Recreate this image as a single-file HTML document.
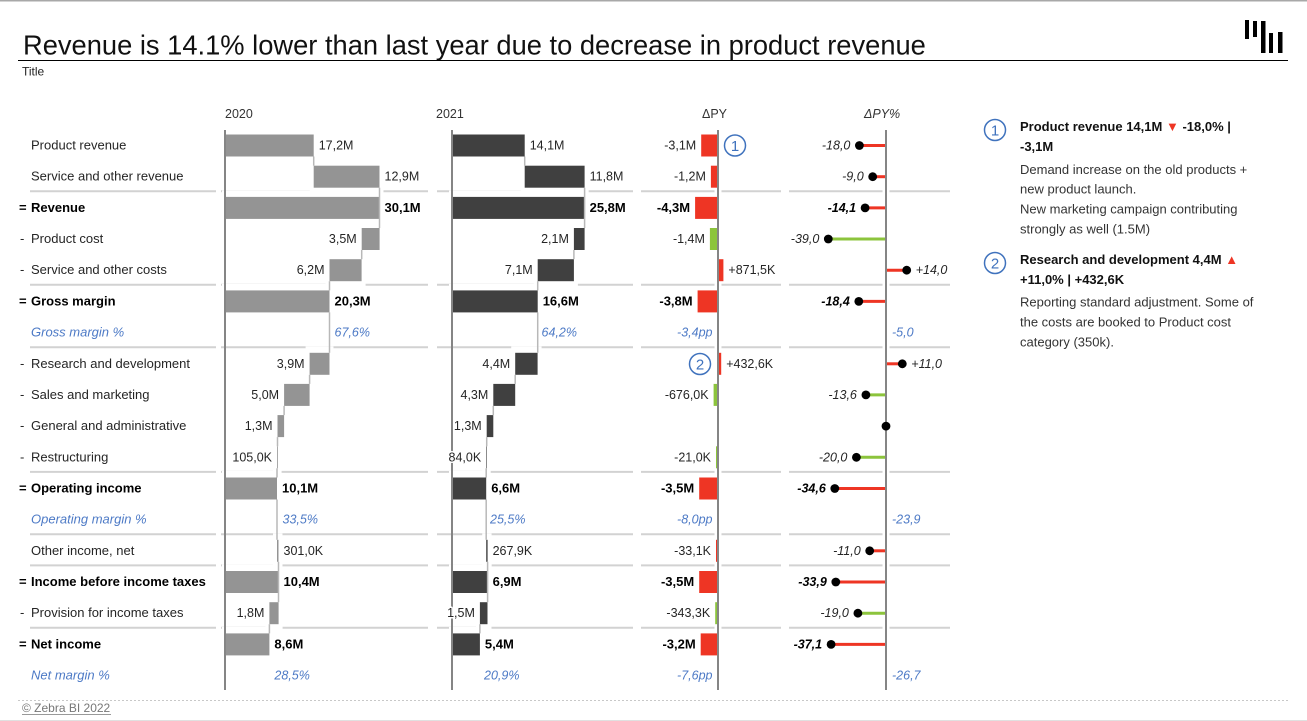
<!DOCTYPE html>
<html><head><meta charset="utf-8"><style>
html,body{margin:0;padding:0;background:#fff;}
svg{display:block;font-family:"Liberation Sans",Arial,sans-serif;}
.lb{font-size:13px;fill:#252525;}
.bd{font-weight:bold;fill:#000;}
.pc{font-style:italic;fill:#4d7ac6;}
.v{font-size:12.5px;fill:#252525;paint-order:stroke;stroke:#fff;stroke-width:3px;stroke-linejoin:round;}
.e{text-anchor:end;}
.it{font-style:italic;}
.hd{font-size:12.5px;fill:#333;}
.cm{font-size:13px;fill:#333;}
.sep{stroke:#d2d2d2;stroke-width:2;}
.cn{stroke:#b8b8b8;stroke-width:1.5;}
</style></head><body>
<svg width="1307" height="721" viewBox="0 0 1307 721" xmlns="http://www.w3.org/2000/svg">
<rect x="0" y="0" width="1307" height="721" fill="#fff"/>
<rect x="0" y="0" width="1307" height="1.5" fill="#a8a8a8"/>
<rect x="0" y="720" width="1307" height="1" fill="#e0e0e0"/>

<!-- Title -->
<text x="23" y="54.5" font-size="27.3" fill="#111">Revenue is 14.1% lower than last year due to decrease in product revenue</text>
<line x1="18" y1="60.5" x2="1288" y2="60.5" stroke="#000" stroke-width="1"/>
<text x="22" y="75.5" font-size="12" fill="#222">Title</text>
<!-- logo -->
<g fill="#000">
<rect x="1245" y="20" width="4" height="19"/>
<rect x="1253" y="21" width="4" height="16"/>
<rect x="1261" y="21" width="4.5" height="32"/>
<rect x="1269" y="33" width="4" height="20"/>
<rect x="1278" y="32" width="4.5" height="21"/>
</g>

<!-- headers -->
<text class="hd" x="225" y="118">2020</text>
<text class="hd" x="436" y="118">2021</text>
<text class="hd" x="702" y="118">ΔPY</text>
<text class="hd it" x="864" y="118">ΔPY%</text>

<!-- separators -->
<g class="sep">
<path d="M30 191.3H216M221 191.3H428M437 191.3H633M641 191.3H781M789 191.3H950"/>
<path d="M30 284.8H216M221 284.8H428M437 284.8H633M641 284.8H781M789 284.8H950"/>
<path d="M30 347.2H216M221 347.2H428M437 347.2H633M641 347.2H781M789 347.2H950"/>
<path d="M30 471.9H216M221 471.9H428M437 471.9H633M641 471.9H781M789 471.9H950"/>
<path d="M30 534.3H216M221 534.3H428M437 534.3H633M641 534.3H781M789 534.3H950"/>
<path d="M30 565.4H216M221 565.4H428M437 565.4H633M641 565.4H781M789 565.4H950"/>
<path d="M30 627.8H216M221 627.8H428M437 627.8H633M641 627.8H781M789 627.8H950"/>
</g>
<!-- axis halos -->
<g stroke="#fff" stroke-width="7">
<line x1="718" y1="130" x2="718" y2="690"/>
<line x1="886" y1="130" x2="886" y2="690"/>
</g>

<!-- white outlines for main bars -->
<g fill="#fff">
<rect x="222" y="128" width="95.7" height="35"/>
<rect x="309.7" y="159.2" width="73.8" height="35"/>
<rect x="222" y="190.4" width="161.5" height="35"/>
<rect x="357.7" y="221.5" width="25.9" height="35"/>
<rect x="325.5" y="252.7" width="40.1" height="35"/>
<rect x="222" y="283.9" width="111.5" height="35"/>
<rect x="305.6" y="346.3" width="27.9" height="35"/>
<rect x="280.1" y="377.4" width="33.5" height="35"/>
<rect x="273.5" y="408.6" width="14.6" height="35"/>
<rect x="273" y="439.8" width="8.6" height="35"/>
<rect x="222" y="471" width="59" height="35"/>
<rect x="273" y="533.3" width="9.5" height="35"/>
<rect x="222" y="564.5" width="60.5" height="35"/>
<rect x="265.4" y="595.7" width="17.2" height="35"/>
<rect x="222" y="626.9" width="51.4" height="35"/>

<rect x="449" y="128" width="79.7" height="35"/>
<rect x="520.7" y="159.2" width="67.9" height="35"/>
<rect x="449" y="190.4" width="139.6" height="35"/>
<rect x="569.9" y="221.5" width="18.7" height="35"/>
<rect x="533.7" y="252.7" width="44.2" height="35"/>
<rect x="449" y="283.9" width="92.7" height="35"/>
<rect x="511.2" y="346.3" width="30.4" height="35"/>
<rect x="489.3" y="377.4" width="29.9" height="35"/>
<rect x="482.7" y="408.6" width="14.6" height="35"/>
<rect x="482.2" y="439.8" width="8.5" height="35"/>
<rect x="449" y="471" width="41.2" height="35"/>
<rect x="482.2" y="533.3" width="9.4" height="35"/>
<rect x="449" y="564.5" width="42.6" height="35"/>
<rect x="475.9" y="595.7" width="15.6" height="35"/>
<rect x="449" y="626.9" width="34.9" height="35"/>
</g>

<!-- axes -->
<g stroke="#858585" stroke-width="2">
<line x1="225" y1="130" x2="225" y2="690"/>
<line x1="452" y1="130" x2="452" y2="690"/>
<line x1="718" y1="130" x2="718" y2="690"/>
<line x1="886" y1="130" x2="886" y2="690"/>
</g>

<!-- 2020 bars -->
<g fill="#949494">
<rect x="226" y="134.5" width="87.7" height="22"/>
<rect x="313.7" y="165.7" width="65.8" height="22"/>
<rect x="226" y="196.9" width="153.5" height="22"/>
<rect x="361.7" y="228" width="17.9" height="22"/>
<rect x="329.5" y="259.2" width="32.1" height="22"/>
<rect x="226" y="290.4" width="103.5" height="22"/>
<rect x="309.6" y="352.8" width="19.9" height="22"/>
<rect x="284.1" y="383.9" width="25.5" height="22"/>
<rect x="277.5" y="415.1" width="6.6" height="22"/>
<rect x="277" y="446.3" width="0.8" height="22"/>
<rect x="226" y="477.5" width="51" height="22"/>
<rect x="277" y="539.8" width="1.5" height="22"/>
<rect x="226" y="571" width="52.5" height="22"/>
<rect x="269.4" y="602.2" width="9.2" height="22"/>
<rect x="226" y="633.4" width="43.4" height="22"/>
</g>
<!-- 2021 bars -->
<g fill="#404040">
<rect x="453" y="134.5" width="71.7" height="22"/>
<rect x="524.7" y="165.7" width="59.9" height="22"/>
<rect x="453" y="196.9" width="131.6" height="22"/>
<rect x="573.9" y="228" width="10.7" height="22"/>
<rect x="537.7" y="259.2" width="36.2" height="22"/>
<rect x="453" y="290.4" width="84.7" height="22"/>
<rect x="515.2" y="352.8" width="22.4" height="22"/>
<rect x="493.3" y="383.9" width="21.9" height="22"/>
<rect x="486.7" y="415.1" width="6.6" height="22"/>
<rect x="486.2" y="446.3" width="0.6" height="22"/>
<rect x="453" y="477.5" width="33.2" height="22"/>
<rect x="486.2" y="539.8" width="1.4" height="22"/>
<rect x="453" y="571" width="34.6" height="22"/>
<rect x="479.9" y="602.2" width="7.6" height="22"/>
<rect x="453" y="633.4" width="26.9" height="22"/>
</g>

<!-- connectors -->
<g class="cn">
<line x1="313.7" y1="156.5" x2="313.7" y2="165.7"/>
<line x1="379.5" y1="187.7" x2="379.5" y2="228"/>
<line x1="361.7" y1="250" x2="361.7" y2="259.2"/>
<line x1="329.5" y1="281.2" x2="329.5" y2="290.4"/>
<line x1="329.5" y1="312.4" x2="329.5" y2="352.8"/>
<line x1="309.6" y1="374.8" x2="309.6" y2="383.9"/>
<line x1="284.1" y1="405.9" x2="284.1" y2="415.1"/>
<line x1="277.5" y1="437.1" x2="277.5" y2="446.3"/>
<line x1="277" y1="468.3" x2="277" y2="477.5"/>
<line x1="277" y1="499.5" x2="277" y2="539.8"/>
<line x1="278.5" y1="561.8" x2="278.5" y2="602.2"/>
<line x1="269.4" y1="624.2" x2="269.4" y2="633.4"/>

<line x1="524.7" y1="156.5" x2="524.7" y2="165.7"/>
<line x1="584.6" y1="187.7" x2="584.6" y2="228"/>
<line x1="573.9" y1="250" x2="573.9" y2="259.2"/>
<line x1="537.7" y1="281.2" x2="537.7" y2="290.4"/>
<line x1="537.7" y1="312.4" x2="537.7" y2="352.8"/>
<line x1="515.2" y1="374.8" x2="515.2" y2="383.9"/>
<line x1="493.3" y1="405.9" x2="493.3" y2="415.1"/>
<line x1="486.7" y1="437.1" x2="486.7" y2="446.3"/>
<line x1="486.2" y1="468.3" x2="486.2" y2="477.5"/>
<line x1="486.2" y1="499.5" x2="486.2" y2="539.8"/>
<line x1="487.6" y1="561.8" x2="487.6" y2="602.2"/>
<line x1="479.9" y1="624.2" x2="479.9" y2="633.4"/>
</g>

<!-- ΔPY bars -->
<g>
<rect x="701.2" y="134.5" width="15.8" height="22" fill="#ee3524"/>
<rect x="710.9" y="165.7" width="6.1" height="22" fill="#ee3524"/>
<rect x="695.1" y="196.9" width="21.9" height="22" fill="#ee3524"/>
<rect x="709.9" y="228" width="7.1" height="22" fill="#8cc43c"/>
<rect x="719" y="259.2" width="4.4" height="22" fill="#ee3524"/>
<rect x="697.6" y="290.4" width="19.4" height="22" fill="#ee3524"/>
<rect x="719" y="352.8" width="2.2" height="22" fill="#ee3524"/>
<rect x="713.6" y="383.9" width="3.4" height="22" fill="#8cc43c"/>
<rect x="716" y="446.3" width="1" height="22" fill="#8cc43c"/>
<rect x="699.2" y="477.5" width="17.8" height="22" fill="#ee3524"/>
<rect x="716" y="539.8" width="1" height="22" fill="#ee3524"/>
<rect x="699.2" y="571" width="17.8" height="22" fill="#ee3524"/>
<rect x="715.2" y="602.2" width="1.8" height="22" fill="#8cc43c"/>
<rect x="700.7" y="633.4" width="16.3" height="22" fill="#ee3524"/>
</g>

<!-- ΔPY% lollipops -->
<g stroke-width="3">
<line x1="859.4" y1="145.5" x2="885" y2="145.5" stroke="#ee3524"/>
<line x1="872.7" y1="176.7" x2="885" y2="176.7" stroke="#ee3524"/>
<line x1="865.1" y1="207.9" x2="885" y2="207.9" stroke="#ee3524"/>
<line x1="828.3" y1="239" x2="885" y2="239" stroke="#8cc43c"/>
<line x1="887" y1="270.2" x2="906.7" y2="270.2" stroke="#ee3524"/>
<line x1="858.8" y1="301.4" x2="885" y2="301.4" stroke="#ee3524"/>
<line x1="887" y1="363.8" x2="902.3" y2="363.8" stroke="#ee3524"/>
<line x1="865.9" y1="394.9" x2="885" y2="394.9" stroke="#8cc43c"/>
<line x1="856.4" y1="457.3" x2="885" y2="457.3" stroke="#8cc43c"/>
<line x1="834.8" y1="488.5" x2="885" y2="488.5" stroke="#ee3524"/>
<line x1="869.7" y1="550.8" x2="885" y2="550.8" stroke="#ee3524"/>
<line x1="835.8" y1="582" x2="885" y2="582" stroke="#ee3524"/>
<line x1="857.9" y1="613.2" x2="885" y2="613.2" stroke="#8cc43c"/>
<line x1="831.1" y1="644.4" x2="885" y2="644.4" stroke="#ee3524"/>
</g>
<g fill="#000">
<circle cx="859.4" cy="145.5" r="4.4"/>
<circle cx="872.7" cy="176.7" r="4.4"/>
<circle cx="865.1" cy="207.9" r="4.4"/>
<circle cx="828.3" cy="239" r="4.4"/>
<circle cx="906.7" cy="270.2" r="4.4"/>
<circle cx="858.8" cy="301.4" r="4.4"/>
<circle cx="902.3" cy="363.8" r="4.4"/>
<circle cx="865.9" cy="394.9" r="4.4"/>
<circle cx="886" cy="426.1" r="4.4"/>
<circle cx="856.4" cy="457.3" r="4.4"/>
<circle cx="834.8" cy="488.5" r="4.4"/>
<circle cx="869.7" cy="550.8" r="4.4"/>
<circle cx="835.8" cy="582" r="4.4"/>
<circle cx="857.9" cy="613.2" r="4.4"/>
<circle cx="831.1" cy="644.4" r="4.4"/>
</g>

<!-- row labels -->
<g class="lb">
<text x="31" y="149.5">Product revenue</text>
<text x="31" y="180.7">Service and other revenue</text>
<text x="19" y="211.9" class="bd">=</text><text x="31" y="211.9" class="bd">Revenue</text>
<text x="20" y="243">-</text><text x="31" y="243">Product cost</text>
<text x="20" y="274.2">-</text><text x="31" y="274.2">Service and other costs</text>
<text x="19" y="305.4" class="bd">=</text><text x="31" y="305.4" class="bd">Gross margin</text>
<text x="31" y="336.6" class="pc">Gross margin %</text>
<text x="20" y="367.8">-</text><text x="31" y="367.8">Research and development</text>
<text x="20" y="398.9">-</text><text x="31" y="398.9">Sales and marketing</text>
<text x="20" y="430.1">-</text><text x="31" y="430.1">General and administrative</text>
<text x="20" y="461.3">-</text><text x="31" y="461.3">Restructuring</text>
<text x="19" y="492.5" class="bd">=</text><text x="31" y="492.5" class="bd">Operating income</text>
<text x="31" y="523.7" class="pc">Operating margin %</text>
<text x="31" y="554.8">Other income, net</text>
<text x="19" y="586" class="bd">=</text><text x="31" y="586" class="bd">Income before income taxes</text>
<text x="20" y="617.2">-</text><text x="31" y="617.2">Provision for income taxes</text>
<text x="19" y="648.4" class="bd">=</text><text x="31" y="648.4" class="bd">Net income</text>
<text x="31" y="679.6" class="pc">Net margin %</text>
</g>

<!-- 2020 labels -->
<g class="v">
<text x="318.7" y="149.5">17,2M</text>
<text x="384.5" y="180.7">12,9M</text>
<text x="384.5" y="211.9" class="bd" font-size="13">30,1M</text>
<text x="356.7" y="243" class="e">3,5M</text>
<text x="324.5" y="274.2" class="e">6,2M</text>
<text x="334.5" y="305.4" class="bd" font-size="13">20,3M</text>
<text x="334.5" y="336.6" class="pc">67,6%</text>
<text x="304.6" y="367.8" class="e">3,9M</text>
<text x="279.1" y="398.9" class="e">5,0M</text>
<text x="272.5" y="430.1" class="e">1,3M</text>
<text x="272" y="461.3" class="e">105,0K</text>
<text x="282" y="492.5" class="bd" font-size="13">10,1M</text>
<text x="282.5" y="523.7" class="pc">33,5%</text>
<text x="283.5" y="554.8">301,0K</text>
<text x="283.5" y="586" class="bd" font-size="13">10,4M</text>
<text x="264.4" y="617.2" class="e">1,8M</text>
<text x="274.4" y="648.4" class="bd" font-size="13">8,6M</text>
<text x="274.4" y="679.6" class="pc">28,5%</text>
</g>
<!-- 2021 labels -->
<g class="v">
<text x="529.7" y="149.5">14,1M</text>
<text x="589.6" y="180.7">11,8M</text>
<text x="589.6" y="211.9" class="bd" font-size="13">25,8M</text>
<text x="568.9" y="243" class="e">2,1M</text>
<text x="532.7" y="274.2" class="e">7,1M</text>
<text x="542.7" y="305.4" class="bd" font-size="13">16,6M</text>
<text x="541.5" y="336.6" class="pc">64,2%</text>
<text x="510.2" y="367.8" class="e">4,4M</text>
<text x="488.3" y="398.9" class="e">4,3M</text>
<text x="481.7" y="430.1" class="e">1,3M</text>
<text x="481.2" y="461.3" class="e">84,0K</text>
<text x="491.2" y="492.5" class="bd" font-size="13">6,6M</text>
<text x="490" y="523.7" class="pc">25,5%</text>
<text x="492.6" y="554.8">267,9K</text>
<text x="492.6" y="586" class="bd" font-size="13">6,9M</text>
<text x="474.9" y="617.2" class="e">1,5M</text>
<text x="484.9" y="648.4" class="bd" font-size="13">5,4M</text>
<text x="484" y="679.6" class="pc">20,9%</text>
</g>
<!-- ΔPY labels -->
<g class="v">
<text x="696.2" y="149.5" class="e">-3,1M</text>
<text x="705.9" y="180.7" class="e">-1,2M</text>
<text x="690.1" y="211.9" class="e bd" font-size="13">-4,3M</text>
<text x="704.9" y="243" class="e">-1,4M</text>
<text x="728.4" y="274.2">+871,5K</text>
<text x="692.6" y="305.4" class="e bd" font-size="13">-3,8M</text>
<text x="712.5" y="336.6" class="e pc">-3,4pp</text>
<text x="726.2" y="367.8">+432,6K</text>
<text x="708.6" y="398.9" class="e">-676,0K</text>
<text x="711" y="461.3" class="e">-21,0K</text>
<text x="694.2" y="492.5" class="e bd" font-size="13">-3,5M</text>
<text x="712.5" y="523.7" class="e pc">-8,0pp</text>
<text x="711" y="554.8" class="e">-33,1K</text>
<text x="694.2" y="586" class="e bd" font-size="13">-3,5M</text>
<text x="710.2" y="617.2" class="e">-343,3K</text>
<text x="695.7" y="648.4" class="e bd" font-size="13">-3,2M</text>
<text x="712.5" y="679.6" class="e pc">-7,6pp</text>
</g>
<!-- ΔPY% labels -->
<g class="v it">
<text x="850.4" y="149.5" class="e">-18,0</text>
<text x="863.7" y="180.7" class="e">-9,0</text>
<text x="856.1" y="211.9" class="e bd">-14,1</text>
<text x="819.3" y="243" class="e">-39,0</text>
<text x="915.7" y="274.2">+14,0</text>
<text x="849.8" y="305.4" class="e bd">-18,4</text>
<text x="892" y="336.6" class="pc">-5,0</text>
<text x="911.3" y="367.8">+11,0</text>
<text x="856.9" y="398.9" class="e">-13,6</text>
<text x="847.4" y="461.3" class="e">-20,0</text>
<text x="825.8" y="492.5" class="e bd">-34,6</text>
<text x="892" y="523.7" class="pc">-23,9</text>
<text x="860.7" y="554.8" class="e">-11,0</text>
<text x="826.8" y="586" class="e bd">-33,9</text>
<text x="848.9" y="617.2" class="e">-19,0</text>
<text x="822.1" y="648.4" class="e bd">-37,1</text>
<text x="892" y="679.6" class="pc">-26,7</text>
</g>

<!-- annotation circles -->
<g fill="#fff" stroke="#3f72bd" stroke-width="1.5">
<circle cx="735" cy="145.5" r="10.5"/>
<circle cx="700" cy="364" r="10.5"/>
<circle cx="995" cy="130" r="10.5"/>
<circle cx="995" cy="263" r="10.5"/>
</g>
<g fill="#3f72bd" font-size="15" text-anchor="middle">
<text x="735" y="151">1</text>
<text x="700" y="369.5">2</text>
<text x="995" y="135.5">1</text>
<text x="995" y="268.5">2</text>
</g>

<!-- comments -->
<g class="cm">
<text x="1020" y="131"><tspan font-weight="bold" fill="#111">Product revenue 14,1M </tspan><tspan fill="#ee3524">▼</tspan><tspan font-weight="bold" fill="#111"> -18,0% |</tspan></text>
<text x="1020" y="151" font-weight="bold" fill="#111">-3,1M</text>
<text x="1020" y="174">Demand increase on the old products +</text>
<text x="1020" y="193.5">new product launch.</text>
<text x="1020" y="213.5">New marketing campaign contributing</text>
<text x="1020" y="233.5">strongly as well (1.5M)</text>
<text x="1020" y="264"><tspan font-weight="bold" fill="#111">Research and development 4,4M </tspan><tspan fill="#ee3524">▲</tspan></text>
<text x="1020" y="284" font-weight="bold" fill="#111">+11,0% | +432,6K</text>
<text x="1020" y="306.5">Reporting standard adjustment. Some of</text>
<text x="1020" y="326.5">the costs are booked to Product cost</text>
<text x="1020" y="346.5">category (350k).</text>
</g>

<!-- footer -->
<line x1="18" y1="700.5" x2="1290" y2="700.5" stroke="#c8c8c8" stroke-width="1" stroke-dasharray="2 2"/>
<text x="22" y="712" font-size="12" fill="#777">© Zebra BI 2022</text>
<line x1="22" y1="714.5" x2="111" y2="714.5" stroke="#999" stroke-width="1"/>
</svg>
</body></html>
